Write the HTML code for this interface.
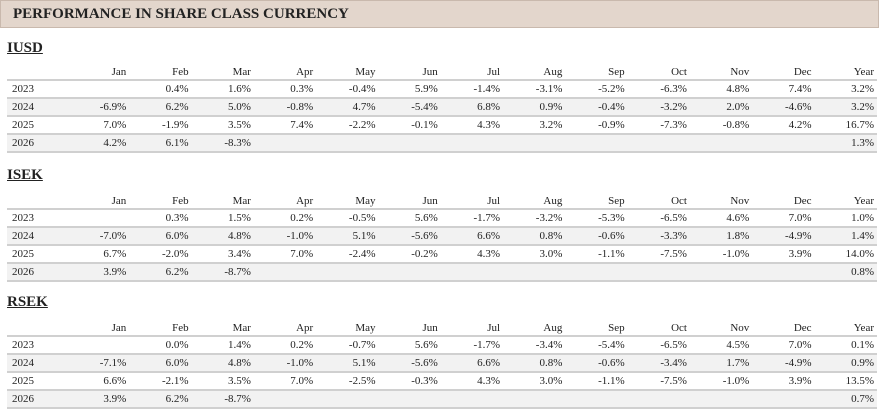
<!DOCTYPE html><html><head><style>
body{margin:0;width:879px;height:410px;background:#fff;font-family:"Liberation Serif",serif;position:relative;overflow:hidden;color:#222}
.title{position:absolute;left:0;top:0;height:28px;background:#e3d6cc;border:1px solid #c9b9ad;font-weight:bold;font-size:15px;line-height:27px;padding-left:12px;box-sizing:border-box;width:879px}
.h{position:absolute;left:7px;font-weight:bold;font-size:15px;text-decoration:underline}
table{position:absolute;left:7px;width:870px;border-collapse:collapse;font-size:11px;table-layout:fixed}
td{padding:0 3px 0 0;text-align:right;height:16px;line-height:16px;border-top:2px solid #d0d0d0;white-space:nowrap}
td:first-child{text-align:left;padding-left:5px;width:52px}
tr.hd td{border-top:none;height:16px;line-height:13px;vertical-align:bottom}
tr.s td{background:#f2f2f2}
tr:last-child td{border-bottom:2px solid #d0d0d0}
</style></head><body>
<div class="title">PERFORMANCE IN SHARE CLASS CURRENCY</div>

<div class="h" style="top:40px">IUSD</div>
<table style="top:63px">
<tr class="hd"><td></td><td>Jan</td><td>Feb</td><td>Mar</td><td>Apr</td><td>May</td><td>Jun</td><td>Jul</td><td>Aug</td><td>Sep</td><td>Oct</td><td>Nov</td><td>Dec</td><td>Year</td></tr>
<tr><td>2023</td><td></td><td>0.4%</td><td>1.6%</td><td>0.3%</td><td>-0.4%</td><td>5.9%</td><td>-1.4%</td><td>-3.1%</td><td>-5.2%</td><td>-6.3%</td><td>4.8%</td><td>7.4%</td><td>3.2%</td></tr>
<tr class="s"><td>2024</td><td>-6.9%</td><td>6.2%</td><td>5.0%</td><td>-0.8%</td><td>4.7%</td><td>-5.4%</td><td>6.8%</td><td>0.9%</td><td>-0.4%</td><td>-3.2%</td><td>2.0%</td><td>-4.6%</td><td>3.2%</td></tr>
<tr><td>2025</td><td>7.0%</td><td>-1.9%</td><td>3.5%</td><td>7.4%</td><td>-2.2%</td><td>-0.1%</td><td>4.3%</td><td>3.2%</td><td>-0.9%</td><td>-7.3%</td><td>-0.8%</td><td>4.2%</td><td>16.7%</td></tr>
<tr class="s"><td>2026</td><td>4.2%</td><td>6.1%</td><td>-8.3%</td><td></td><td></td><td></td><td></td><td></td><td></td><td></td><td></td><td></td><td>1.3%</td></tr>
</table>

<div class="h" style="top:167px">ISEK</div>
<table style="top:192px">
<tr class="hd"><td></td><td>Jan</td><td>Feb</td><td>Mar</td><td>Apr</td><td>May</td><td>Jun</td><td>Jul</td><td>Aug</td><td>Sep</td><td>Oct</td><td>Nov</td><td>Dec</td><td>Year</td></tr>
<tr><td>2023</td><td></td><td>0.3%</td><td>1.5%</td><td>0.2%</td><td>-0.5%</td><td>5.6%</td><td>-1.7%</td><td>-3.2%</td><td>-5.3%</td><td>-6.5%</td><td>4.6%</td><td>7.0%</td><td>1.0%</td></tr>
<tr class="s"><td>2024</td><td>-7.0%</td><td>6.0%</td><td>4.8%</td><td>-1.0%</td><td>5.1%</td><td>-5.6%</td><td>6.6%</td><td>0.8%</td><td>-0.6%</td><td>-3.3%</td><td>1.8%</td><td>-4.9%</td><td>1.4%</td></tr>
<tr><td>2025</td><td>6.7%</td><td>-2.0%</td><td>3.4%</td><td>7.0%</td><td>-2.4%</td><td>-0.2%</td><td>4.3%</td><td>3.0%</td><td>-1.1%</td><td>-7.5%</td><td>-1.0%</td><td>3.9%</td><td>14.0%</td></tr>
<tr class="s"><td>2026</td><td>3.9%</td><td>6.2%</td><td>-8.7%</td><td></td><td></td><td></td><td></td><td></td><td></td><td></td><td></td><td></td><td>0.8%</td></tr>
</table>

<div class="h" style="top:294px">RSEK</div>
<table style="top:319px">
<tr class="hd"><td></td><td>Jan</td><td>Feb</td><td>Mar</td><td>Apr</td><td>May</td><td>Jun</td><td>Jul</td><td>Aug</td><td>Sep</td><td>Oct</td><td>Nov</td><td>Dec</td><td>Year</td></tr>
<tr><td>2023</td><td></td><td>0.0%</td><td>1.4%</td><td>0.2%</td><td>-0.7%</td><td>5.6%</td><td>-1.7%</td><td>-3.4%</td><td>-5.4%</td><td>-6.5%</td><td>4.5%</td><td>7.0%</td><td>0.1%</td></tr>
<tr class="s"><td>2024</td><td>-7.1%</td><td>6.0%</td><td>4.8%</td><td>-1.0%</td><td>5.1%</td><td>-5.6%</td><td>6.6%</td><td>0.8%</td><td>-0.6%</td><td>-3.4%</td><td>1.7%</td><td>-4.9%</td><td>0.9%</td></tr>
<tr><td>2025</td><td>6.6%</td><td>-2.1%</td><td>3.5%</td><td>7.0%</td><td>-2.5%</td><td>-0.3%</td><td>4.3%</td><td>3.0%</td><td>-1.1%</td><td>-7.5%</td><td>-1.0%</td><td>3.9%</td><td>13.5%</td></tr>
<tr class="s"><td>2026</td><td>3.9%</td><td>6.2%</td><td>-8.7%</td><td></td><td></td><td></td><td></td><td></td><td></td><td></td><td></td><td></td><td>0.7%</td></tr>
</table>
</body></html>
